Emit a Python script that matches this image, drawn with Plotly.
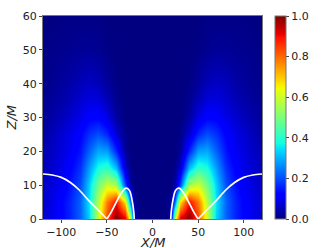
import plotly.graph_objects as go

x_left = [-120, -110, -100, -90, -80, -70, -60, -50, -40, -30, -25, -20, -15, 0]
z_rows = [0, 5, 10, 15, 20, 25, 30, 35, 40, 50, 60]
half_values = [
    [.07, .09, .12, .16, .22, .33, .60, .84, 1.0, .93, .62, .08, 0, 0],
    [.07, .09, .12, .16, .22, .35, .57, .78, .90, .67, .25, .03, 0, 0],
    [.06, .08, .10, .14, .20, .33, .49, .60, .55, .19, .04, 0, 0, 0],
    [.05, .07, .09, .12, .17, .28, .38, .41, .31, .07, .01, 0, 0, 0],
    [.04, .06, .08, .10, .14, .22, .29, .28, .16, .02, 0, 0, 0, 0],
    [.03, .05, .07, .09, .12, .17, .20, .16, .07, .01, 0, 0, 0, 0],
    [.02, .035, .05, .07, .09, .12, .125, .09, .03, 0, 0, 0, 0, 0],
    [.015, .025, .035, .05, .07, .085, .08, .05, .015, 0, 0, 0, 0, 0],
    [.01, .015, .025, .035, .05, .06, .05, .025, .005, 0, 0, 0, 0, 0],
    [.005, .01, .012, .015, .02, .02, .015, .005, 0, 0, 0, 0, 0, 0],
    [0, 0, .005, .005, .005, .005, .005, 0, 0, 0, 0, 0, 0, 0],
]
outer_x = [-120, -110, -100, -90, -80, -70, -60, -50]
outer_z = [13.3, 13.0, 12.3, 10.8, 8.5, 5.5, 2.8, 0]
inner_x = [-50, -45, -40, -35, -30, -28, -25, -22, -20.5, -20]
inner_z = [0, 2.2, 4.8, 7.3, 9.0, 9.1, 8.3, 5.0, 2.0, 0]
x_ticks = [-100, -50, 0, 50, 100]
z_ticks = [0, 10, 20, 30, 40, 50, 60]
bar_ticks = [0, .2, .4, .6, .8, 1]
jet = [[0, "rgb(0,0,128)"], [.11, "rgb(0,0,255)"], [.125, "rgb(0,0,255)"], [.34, "rgb(0,219,255)"],
       [.375, "rgb(20,255,226)"], [.64, "rgb(238,255,8)"], [.66, "rgb(255,236,0)"],
       [.89, "rgb(255,19,0)"], [.91, "rgb(232,0,0)"], [1, "rgb(128,0,0)"]]

xs = x_left + [-v for v in x_left[-2::-1]]
zs = [r + r[-2::-1] for r in half_values]

fig = go.Figure()
fig.add_heatmap(x=xs, y=z_rows, z=zs, zmin=0, zmax=1, colorscale=jet, zsmooth="best",
                colorbar=dict(thickness=11, len=1, x=1.06, xanchor="left", y=0.5, yanchor="middle",
                              tickvals=bar_ticks, ticktext=["0.0", "0.2", "0.4", "0.6", "0.8", "1.0"],
                              ticks="outside", ticklen=3, tickcolor="#444", outlinecolor="#777", outlinewidth=1,
                              xpad=0, ypad=0, tickfont=dict(size=11, color="#222")))
for sign in (1, -1):
    for px, pz in ((outer_x, outer_z), (inner_x, inner_z)):
        fig.add_scatter(x=[sign * v for v in px], y=pz, mode="lines",
                        line=dict(color="white", width=1.7, shape="spline", smoothing=0.8),
                        showlegend=False, hoverinfo="skip")
fig.update_xaxes(range=[-120, 120], tickvals=x_ticks, ticktext=["\u2212100", "\u221250", "0", "50", "100"],
                 ticks="outside", ticklen=3, tickcolor="#444", showgrid=False, zeroline=False,
                 showline=True, linecolor="#777", linewidth=1, mirror=True,
                 tickfont=dict(size=11, color="#222"))
fig.update_yaxes(range=[0, 60], tickvals=z_ticks, ticks="outside", ticklen=3, tickcolor="#444",
                 showgrid=False, zeroline=False, showline=True, linecolor="#777", linewidth=1, mirror=True,
                 tickfont=dict(size=11, color="#222"))
fig.add_annotation(text="<i>X/M</i>", xref="x domain", yref="y domain", x=0.5, y=0, xanchor="center", yanchor="top",
                   yshift=-14, showarrow=False, font=dict(size=13, color="#222"))
fig.add_annotation(text="<i>Z/M</i>", xref="x domain", yref="y domain", x=0, y=0.5, xanchor="center", yanchor="middle",
                   xshift=-32, textangle=-90, showarrow=False, font=dict(size=13, color="#222"))
fig.update_layout(width=321, height=248, margin=dict(l=43, r=59, t=15.5, b=29, autoexpand=False), paper_bgcolor="white",
                  plot_bgcolor="white", font=dict(family="DejaVu Sans"), showlegend=False)
fig.write_html("out.html", config={"displayModeBar": False},
               post_script="document.body.style.margin='0';document.body.style.overflow='hidden';")
